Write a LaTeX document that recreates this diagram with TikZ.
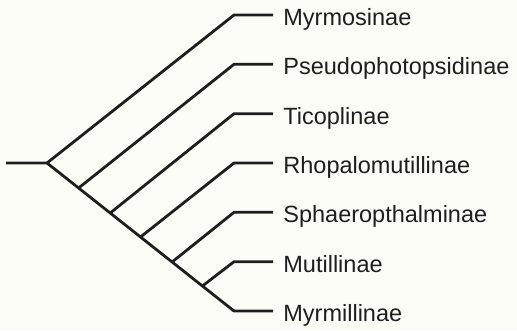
\documentclass[tikz,border=0pt]{standalone}
\usepackage{fontspec}
\setmainfont{Liberation Sans}
\definecolor{paper}{RGB}{253,253,248}
\definecolor{ink}{RGB}{30,30,30}
\begin{document}
\begin{tikzpicture}[x=1pt, y=-1pt, line width=2.8pt, line join=round, draw=ink,
  every node/.style={font=\fontsize{23.5}{26}\selectfont, text=ink, anchor=west,
    inner xsep=9pt, inner ysep=0pt, text height=21pt, text depth=0pt}]
  \useasboundingbox[fill=paper] (0,0) rectangle (517,330);
  % stem and spine
  \coordinate (stem) at (6,163);
  \coordinate (root) at (47,163);
  \coordinate (j1) at (78.6,188);
  \coordinate (j2) at (110.2,213);
  \coordinate (j3) at (140.5,237);
  \coordinate (j4) at (172.1,262);
  \coordinate (j5) at (202.4,286);
  % tips
  \coordinate (t1) at (234,15);
  \coordinate (t2) at (234,64.3);
  \coordinate (t3) at (234,113.7);
  \coordinate (t4) at (234,163);
  \coordinate (t5) at (234,212.3);
  \coordinate (t6) at (234,261.7);
  \coordinate (t7) at (234,311);
  % taxa
  \node (myrmosinae) at (273,15) {Myrmosinae};
  \node (pseudo) at (273,64.3) {Pseudophotopsidinae};
  \node (tico) at (273,113.7) {Ticoplinae};
  \node (rhopalo) at (273,163) {Rhopalomutillinae};
  \node (sphaero) at (273,212.3) {Sphaeropthalminae};
  \node (mutil) at (273,261.7) {Mutillinae};
  \node (myrmil) at (273,311) {Myrmillinae};
  \draw (stem) -- (root) -- (t1) -- (myrmosinae.west);
  \draw (root) -- (j1) -- (j2) -- (j3) -- (j4) -- (j5) -- (t7) -- (myrmil.west);
  \draw (j1) -- (t2) -- (pseudo.west);
  \draw (j2) -- (t3) -- (tico.west);
  \draw (j3) -- (t4) -- (rhopalo.west);
  \draw (j4) -- (t5) -- (sphaero.west);
  \draw (j5) -- (t6) -- (mutil.west);
\end{tikzpicture}
\end{document}
